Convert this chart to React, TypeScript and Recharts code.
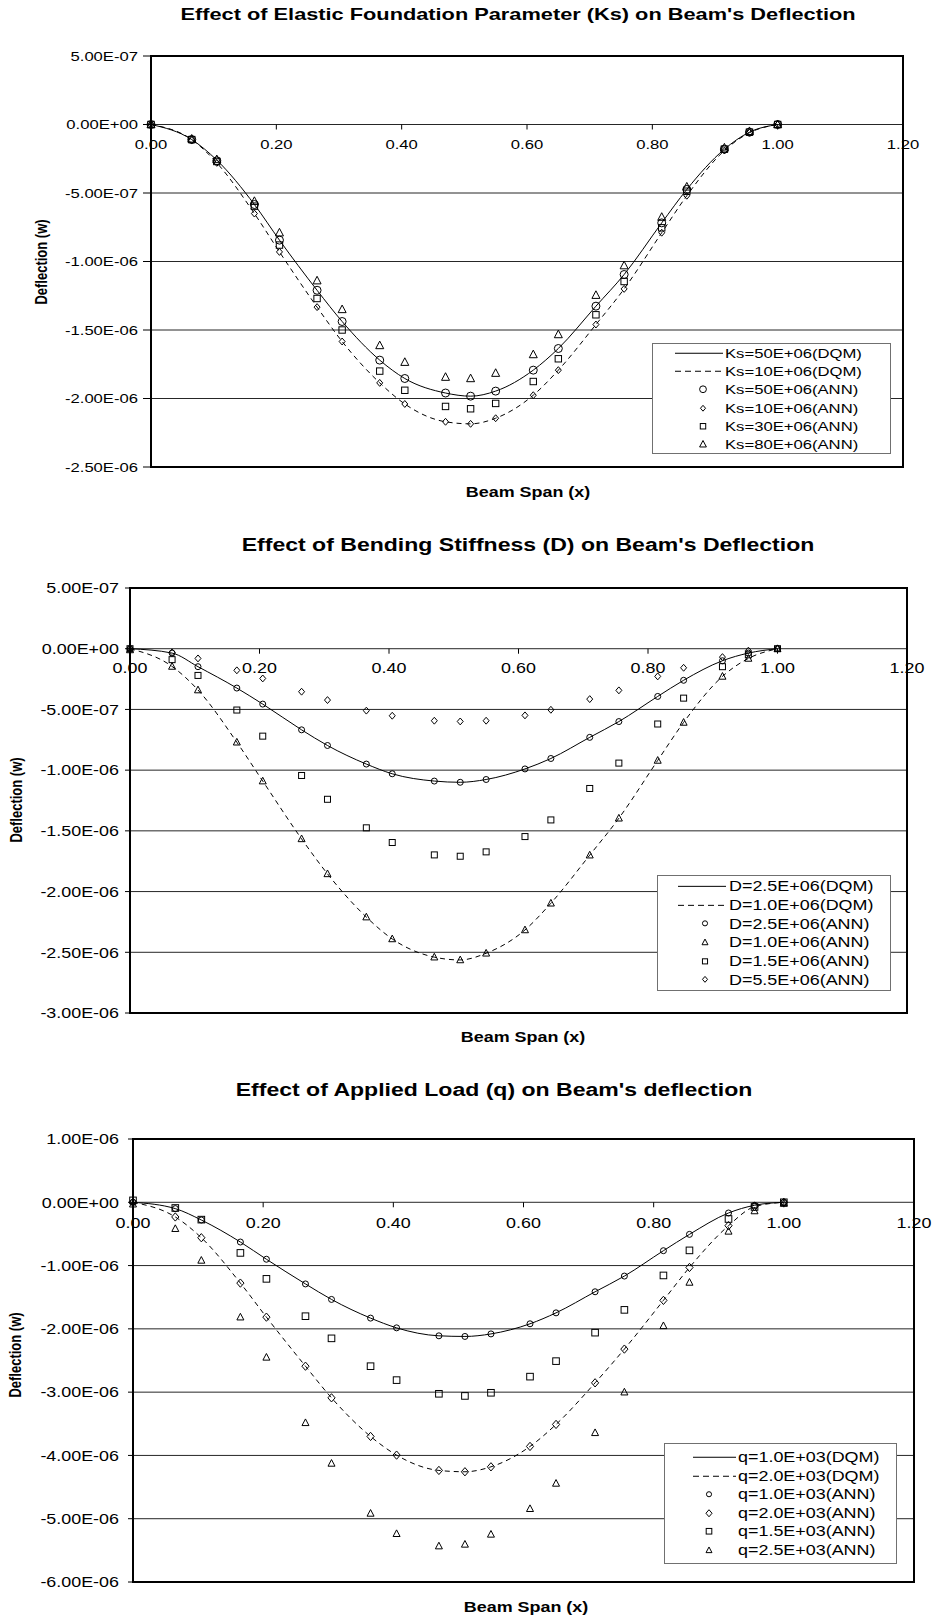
import React from 'react';
import {
  ComposedChart,
  Line,
  Scatter,
  XAxis,
  YAxis,
  CartesianGrid,
  ReferenceArea,
  ReferenceDot,
  Legend,
} from 'recharts';

const FONT = '"Liberation Sans", Arial, Helvetica, sans-serif';
// the source figure is stretched sideways, so text is widened a bit
const STRETCH = 1.28;

// beam span stations, shared by the three charts
const xs = [0, 0.065, 0.105, 0.165, 0.205, 0.265, 0.305, 0.365, 0.405, 0.47, 0.51, 0.55, 0.61, 0.65, 0.71, 0.755, 0.815, 0.855, 0.915, 0.955, 1.0];
const xTicks = [0, 0.2, 0.4, 0.6, 0.8, 1.0, 1.2];

// deflection values are in units of 1E-06

// chart 1: elastic foundation parameter Ks
const ks50Dqm = [0, -0.11, -0.26, -0.584, -0.844, -1.21, -1.438, -1.72, -1.854, -1.96, -1.983, -1.946, -1.793, -1.635, -1.326, -1.095, -0.718, -0.474, -0.18, -0.056, 0];
const ks10Dqm = [0, -0.11, -0.28, -0.65, -0.93, -1.333, -1.584, -1.886, -2.04, -2.17, -2.185, -2.144, -1.976, -1.793, -1.46, -1.2, -0.79, -0.52, -0.19, -0.06, 0];
const ks50Ann = [0, -0.11, -0.265, -0.584, -0.844, -1.21, -1.438, -1.72, -1.854, -1.96, -1.983, -1.946, -1.793, -1.635, -1.326, -1.095, -0.718, -0.474, -0.18, -0.056, 0];
const ks10Ann = [0, -0.115, -0.28, -0.65, -0.93, -1.333, -1.584, -1.886, -2.04, -2.17, -2.185, -2.144, -1.976, -1.793, -1.46, -1.2, -0.79, -0.52, -0.19, -0.06, 0];
const ks30Ann = [0, -0.11, -0.27, -0.596, -0.88, -1.27, -1.5, -1.8, -1.94, -2.058, -2.075, -2.036, -1.876, -1.71, -1.389, -1.146, -0.754, -0.487, -0.18, -0.056, 0];
const ks80Ann = [0, -0.105, -0.255, -0.56, -0.79, -1.14, -1.35, -1.613, -1.735, -1.844, -1.854, -1.815, -1.679, -1.533, -1.246, -1.03, -0.676, -0.455, -0.17, -0.05, 0];
const yTicks1 = [0.5, 0, -0.5, -1, -1.5, -2, -2.5];

// chart 2: bending stiffness D
const d25Dqm = [0, -0.036, -0.148, -0.324, -0.456, -0.668, -0.797, -0.95, -1.03, -1.09, -1.1, -1.077, -0.99, -0.904, -0.73, -0.6, -0.393, -0.26, -0.099, -0.036, 0];
const d10Dqm = [0, -0.146, -0.34, -0.77, -1.09, -1.566, -1.854, -2.21, -2.39, -2.54, -2.563, -2.508, -2.316, -2.096, -1.7, -1.396, -0.92, -0.607, -0.228, -0.08, 0];
const d25Ann = [0, -0.036, -0.148, -0.324, -0.456, -0.668, -0.797, -0.95, -1.03, -1.09, -1.1, -1.077, -0.99, -0.904, -0.73, -0.6, -0.393, -0.26, -0.099, -0.036, 0];
const d10Ann = [-0.01, -0.146, -0.34, -0.77, -1.09, -1.566, -1.854, -2.21, -2.39, -2.54, -2.563, -2.508, -2.316, -2.096, -1.7, -1.396, -0.92, -0.607, -0.228, -0.08, 0];
const d15Ann = [0, -0.09, -0.22, -0.505, -0.72, -1.044, -1.24, -1.475, -1.596, -1.698, -1.709, -1.673, -1.547, -1.41, -1.151, -0.942, -0.62, -0.407, -0.148, -0.05, 0];
const d55Ann = [0, -0.03, -0.08, -0.178, -0.245, -0.354, -0.423, -0.51, -0.552, -0.593, -0.599, -0.593, -0.549, -0.503, -0.415, -0.343, -0.228, -0.157, -0.069, -0.016, 0];
const yTicks2 = [0.5, 0, -0.5, -1, -1.5, -2, -2.5, -3];

// chart 3: applied load q
const q10Dqm = [0, -0.1, -0.28, -0.628, -0.9, -1.29, -1.535, -1.83, -1.984, -2.11, -2.12, -2.08, -1.92, -1.747, -1.414, -1.166, -0.765, -0.507, -0.169, -0.047, 0];
const q20Dqm = [0, -0.232, -0.56, -1.277, -1.815, -2.59, -3.09, -3.7, -3.995, -4.237, -4.258, -4.18, -3.858, -3.51, -2.853, -2.32, -1.55, -1.03, -0.37, -0.069, 0];
const q10Ann = [0, -0.1, -0.28, -0.628, -0.9, -1.29, -1.535, -1.83, -1.984, -2.11, -2.12, -2.08, -1.92, -1.747, -1.414, -1.166, -0.765, -0.507, -0.169, -0.047, 0];
const q20Ann = [0, -0.232, -0.56, -1.277, -1.815, -2.59, -3.09, -3.7, -3.995, -4.237, -4.258, -4.18, -3.858, -3.51, -2.853, -2.32, -1.55, -1.03, -0.37, -0.069, 0];
const q15Ann = [0.03, -0.09, -0.274, -0.8, -1.21, -1.8, -2.15, -2.59, -2.81, -3.026, -3.06, -3.01, -2.755, -2.51, -2.06, -1.7, -1.156, -0.76, -0.264, -0.074, 0];
const q25Ann = [-0.03, -0.417, -0.918, -1.815, -2.45, -3.484, -4.126, -4.916, -5.237, -5.432, -5.405, -5.247, -4.842, -4.442, -3.642, -3.0, -1.952, -1.266, -0.459, -0.137, -0.02];
const yTicks3 = [1, 0, -1, -2, -3, -4, -5, -6];

type Kind = 'circle' | 'diamond' | 'square' | 'triangle';
type Style = 'solid' | 'dashed' | Kind;
type Series = { name: string; values: number[]; style: Style };

const rows = (values: number[]) => xs.map((x, i) => ({ x, y: values[i] }));

// 1E-06 units -> "-1.50E-06"
function sci(v: number) {
  const val = v * 1e-6;
  if (Math.abs(val) < 1e-15) return '0.00E+00';
  const [m, e] = val.toExponential(2).split('e');
  const n = parseInt(e, 10);
  return `${m}E${n < 0 ? '-' : '+'}${String(Math.abs(n)).padStart(2, '0')}`;
}

function Marker({ kind, cx, cy, s }: { kind: Kind; cx: number; cy: number; s: number }) {
  const st = { fill: 'none', stroke: '#000', strokeWidth: 1 };
  if (kind === 'circle') return <circle cx={cx} cy={cy} r={s} {...st} />;
  if (kind === 'square') return <rect x={cx - s} y={cy - s} width={2 * s} height={2 * s} {...st} />;
  if (kind === 'diamond')
    return <polygon points={`${cx},${cy - s * 1.15} ${cx + s},${cy} ${cx},${cy + s * 1.15} ${cx - s},${cy}`} {...st} />;
  return <polygon points={`${cx},${cy - s * 1.1} ${cx + s},${cy + s * 0.8} ${cx - s},${cy + s * 0.8}`} {...st} />;
}

function Caption({ x, y, text, size, rotate = false }: { x: number; y: number; text: string; size: number; rotate?: boolean }) {
  return (
    <div
      style={{
        position: 'absolute',
        left: x,
        top: y,
        transform: rotate
          ? `translate(-50%,-50%) rotate(-90deg) scaleY(${STRETCH})`
          : `translate(-50%,-50%) scaleX(${STRETCH})`,
        whiteSpace: 'nowrap',
        fontFamily: FONT,
        fontSize: size,
        fontWeight: 700,
        lineHeight: 1,
        color: '#000',
      }}
    >
      {text}
    </div>
  );
}

type LegendCfg = {
  left: number; top: number; width: number; height: number;
  lineFrom: number; lineTo: number; markX: number; textX: number; rowH: number;
};

type ChartCfg = {
  top: number;
  height: number;
  margin: { top: number; right: number; bottom: number; left: number };
  yWidth: number;
  tickSize: number;
  tickMargin: number;
  yTicks: number[];
  fs: number;
  marks: Record<Kind, number>;
  series: Series[];
  legend: LegendCfg;
  xGap: number;
};

function LegendBox({ cfg, series, fs, marks }: { cfg: LegendCfg; series: Series[]; fs: number; marks: Record<Kind, number> }) {
  return (
    <div
      style={{
        boxSizing: 'border-box',
        width: cfg.width,
        height: cfg.height,
        border: '1px solid #707070',
        background: '#fff',
        display: 'flex',
        flexDirection: 'column',
        justifyContent: 'center',
      }}
    >
      {series.map((s) => (
        <div key={s.name} style={{ height: cfg.rowH, position: 'relative' }}>
          <svg width={cfg.textX} height={cfg.rowH} style={{ position: 'absolute', left: 0, top: 0 }}>
            {s.style === 'solid' || s.style === 'dashed' ? (
              <line
                x1={cfg.lineFrom}
                x2={cfg.lineTo}
                y1={cfg.rowH / 2}
                y2={cfg.rowH / 2}
                stroke="#000"
                strokeWidth={1}
                strokeDasharray={s.style === 'dashed' ? '6 4' : undefined}
              />
            ) : (
              <Marker kind={s.style} cx={cfg.markX} cy={cfg.rowH / 2} s={marks[s.style] * 0.85} />
            )}
          </svg>
          <span
            style={{
              position: 'absolute',
              left: cfg.textX,
              top: '50%',
              transform: `translateY(-50%) scaleX(${STRETCH})`,
              transformOrigin: 'left center',
              whiteSpace: 'nowrap',
              fontFamily: FONT,
              fontSize: fs,
              lineHeight: 1,
              color: '#000',
            }}
          >
            {s.name}
          </span>
        </div>
      ))}
    </div>
  );
}

function DeflectionChart({ cfg }: { cfg: ChartCfg }) {
  const yMin = cfg.yTicks[cfg.yTicks.length - 1];
  const yMax = cfg.yTicks[0];
  const lines = cfg.series.filter((s) => s.style === 'solid' || s.style === 'dashed');
  const points = cfg.series.filter((s) => !(s.style === 'solid' || s.style === 'dashed'));
  return (
    <div style={{ position: 'absolute', left: 0, top: cfg.top }}>
      <ComposedChart width={932} height={cfg.height} margin={cfg.margin}>
        <CartesianGrid vertical={false} stroke="#262626" strokeWidth={1} />
        <XAxis type="number" dataKey="x" domain={[0, 1.2]} ticks={xTicks} hide />
        <YAxis
          type="number"
          domain={[yMin, yMax]}
          ticks={cfg.yTicks}
          interval={0}
          width={cfg.yWidth}
          axisLine={false}
          tickSize={cfg.tickSize}
          tickMargin={cfg.tickMargin}
          tickLine={{ stroke: '#000' }}
          tick={(p: any) => (
            <text
              transform={`translate(${p.x},${p.y}) scale(${STRETCH},1)`}
              textAnchor="end"
              dominantBaseline="central"
              fontFamily={FONT}
              fontSize={cfg.fs}
              fill="#000"
            >
              {sci(p.payload.value)}
            </text>
          )}
        />
        <ReferenceArea
          x1={0}
          x2={1.2}
          y1={yMin}
          y2={yMax}
          fill="none"
          fillOpacity={0}
          stroke="#000"
          strokeWidth={2}
          ifOverflow="visible"
        />
        {xTicks.map((t) => (
          <ReferenceDot
            key={t}
            x={t}
            y={0}
            r={0}
            ifOverflow="visible"
            shape={(p: any) => (
              <g>
                <line x1={p.cx} x2={p.cx} y1={p.cy} y2={p.cy + 5} stroke="#000" strokeWidth={1} />
                <text
                  transform={`translate(${p.cx},${p.cy + cfg.xGap}) scale(${STRETCH},1)`}
                  textAnchor="middle"
                  dominantBaseline="central"
                  fontFamily={FONT}
                  fontSize={cfg.fs}
                  fill="#000"
                >
                  {t.toFixed(2)}
                </text>
              </g>
            )}
          />
        ))}
        {lines.map((s) => (
          <Line
            key={s.name}
            data={rows(s.values)}
            dataKey="y"
            name={s.name}
            type="monotone"
            stroke="#000"
            strokeWidth={1}
            strokeDasharray={s.style === 'dashed' ? '5 4' : undefined}
            dot={false}
            activeDot={false}
            isAnimationActive={false}
          />
        ))}
        {points.map((s) => (
          <Scatter
            key={s.name}
            data={rows(s.values)}
            dataKey="y"
            name={s.name}
            isAnimationActive={false}
            shape={(p: any) => <Marker kind={s.style as Kind} cx={p.cx} cy={p.cy} s={cfg.marks[s.style as Kind]} />}
          />
        ))}
        <Legend
          layout="vertical"
          align="center"
          verticalAlign="middle"
          wrapperStyle={{ position: 'absolute', left: cfg.legend.left, top: cfg.legend.top, width: cfg.legend.width, height: cfg.legend.height }}
          content={() => <LegendBox cfg={cfg.legend} series={cfg.series} fs={cfg.fs} marks={cfg.marks} />}
        />
      </ComposedChart>
    </div>
  );
}

const chart1: ChartCfg = {
  top: 0,
  height: 500,
  margin: { top: 56, right: 29, bottom: 33, left: 0 },
  yWidth: 151,
  tickSize: 8,
  tickMargin: 5,
  yTicks: yTicks1,
  fs: 13,
  marks: { circle: 4, diamond: 3, square: 3.2, triangle: 4 },
  series: [
    { name: 'Ks=50E+06(DQM)', values: ks50Dqm, style: 'solid' },
    { name: 'Ks=10E+06(DQM)', values: ks10Dqm, style: 'dashed' },
    { name: 'Ks=50E+06(ANN)', values: ks50Ann, style: 'circle' },
    { name: 'Ks=10E+06(ANN)', values: ks10Ann, style: 'diamond' },
    { name: 'Ks=30E+06(ANN)', values: ks30Ann, style: 'square' },
    { name: 'Ks=80E+06(ANN)', values: ks80Ann, style: 'triangle' },
  ],
  legend: { left: 652, top: 343, width: 239, height: 111, lineFrom: 22, lineTo: 70, markX: 50, textX: 72, rowH: 18.5 },
  xGap: 20,
};

const chart2: ChartCfg = {
  top: 520,
  height: 510,
  margin: { top: 68, right: 25, bottom: 17, left: 0 },
  yWidth: 130,
  tickSize: 5,
  tickMargin: 6,
  yTicks: yTicks2,
  fs: 14,
  marks: { circle: 3, diamond: 3, square: 3, triangle: 3.5 },
  series: [
    { name: 'D=2.5E+06(DQM)', values: d25Dqm, style: 'solid' },
    { name: 'D=1.0E+06(DQM)', values: d10Dqm, style: 'dashed' },
    { name: 'D=2.5E+06(ANN)', values: d25Ann, style: 'circle' },
    { name: 'D=1.0E+06(ANN)', values: d10Ann, style: 'triangle' },
    { name: 'D=1.5E+06(ANN)', values: d15Ann, style: 'square' },
    { name: 'D=5.5E+06(ANN)', values: d55Ann, style: 'diamond' },
  ],
  legend: { left: 657, top: 355, width: 234, height: 116, lineFrom: 20, lineTo: 68, markX: 47, textX: 71, rowH: 18.7 },
  xGap: 19,
};

const chart3: ChartCfg = {
  top: 1060,
  height: 561,
  margin: { top: 79, right: 18, bottom: 39, left: 0 },
  yWidth: 133,
  tickSize: 5,
  tickMargin: 9,
  yTicks: yTicks3,
  fs: 14,
  marks: { circle: 3, diamond: 3.6, square: 3.3, triangle: 3.5 },
  series: [
    { name: 'q=1.0E+03(DQM)', values: q10Dqm, style: 'solid' },
    { name: 'q=2.0E+03(DQM)', values: q20Dqm, style: 'dashed' },
    { name: 'q=1.0E+03(ANN)', values: q10Ann, style: 'circle' },
    { name: 'q=2.0E+03(ANN)', values: q20Ann, style: 'diamond' },
    { name: 'q=1.5E+03(ANN)', values: q15Ann, style: 'square' },
    { name: 'q=2.5E+03(ANN)', values: q25Ann, style: 'triangle' },
  ],
  legend: { left: 664, top: 383, width: 233, height: 121, lineFrom: 28, lineTo: 71, markX: 44, textX: 73, rowH: 18.5 },
  xGap: 20.5,
};

export default function App() {
  return (
    <div style={{ position: 'absolute', left: 0, top: 0, width: 932, height: 1621, background: '#fff', overflow: 'hidden' }}>
      <DeflectionChart cfg={chart1} />
      <DeflectionChart cfg={chart2} />
      <DeflectionChart cfg={chart3} />

      <Caption x={518} y={14} size={17} text="Effect of Elastic Foundation Parameter (Ks) on Beam's Deflection" />
      <Caption x={528} y={545} size={18} text="Effect of Bending Stiffness (D) on Beam's Deflection" />
      <Caption x={494} y={1090} size={18} text="Effect of Applied Load (q) on Beam's deflection" />

      <Caption x={528} y={492} size={14} text="Beam Span (x)" />
      <Caption x={523} y={1037} size={14} text="Beam Span (x)" />
      <Caption x={526} y={1607} size={14} text="Beam Span (x)" />

      <Caption x={41} y={262} size={13} rotate text="Deflection (w)" />
      <Caption x={16} y={800} size={13} rotate text="Deflection (w)" />
      <Caption x={15} y={1355} size={13} rotate text="Deflection (w)" />
    </div>
  );
}
